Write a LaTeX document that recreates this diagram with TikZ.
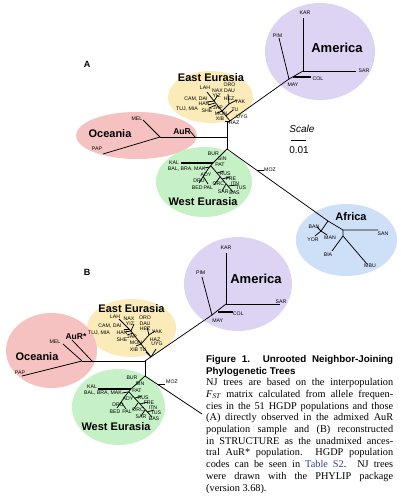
\documentclass[tikz,border=0pt]{standalone}
\usepackage{fontspec}
\setmainfont{Liberation Serif}
\setsansfont{Liberation Sans}
\usetikzlibrary{shapes.geometric}
\definecolor{pinkO}{HTML}{F6C1C1}
\definecolor{yellowE}{HTML}{FAEBB8}
\definecolor{purpleA}{HTML}{DCD4F2}
\definecolor{greenW}{HTML}{C6F1C6}
\definecolor{blueF}{HTML}{CEDFF8}
\definecolor{linkblue}{HTML}{2E3F9E}
\tikzset{
  br/.style={line width=0.75pt},
  thickbr/.style={line width=1.4pt},
  tip/.style={font=\sffamily\fontsize{5.2}{5.2}\selectfont, inner sep=0pt},
  region/.style={font=\sffamily\bfseries\fontsize{11}{11}\selectfont, inner sep=0pt},
  bigregion/.style={font=\sffamily\bfseries\fontsize{13}{13}\selectfont, inner sep=0pt},
  aur/.style={font=\sffamily\bfseries\fontsize{8.5}{8.5}\selectfont, inner sep=0pt},
  panel/.style={font=\sffamily\bfseries\fontsize{9}{9}\selectfont, inner sep=0pt},
  capline/.style={anchor=base west, inner sep=0pt, font=\fontsize{10.3}{12}\selectfont},
  captitle/.style={anchor=base west, inner sep=0pt, font=\sffamily\bfseries\fontsize{9.8}{10}\selectfont},
}
\begin{document}
\begin{tikzpicture}[x=1pt,y=-1pt]
\useasboundingbox (0,0) rectangle (400,504);
\fill[white] (0,0) rectangle (400,504);

% ---------- background regions, tree A ----------
\fill[purpleA] (320,51.5) ellipse [x radius=55, y radius=48.5];
\fill[yellowE] (210.5,97) ellipse [x radius=42.5, y radius=26];
\fill[pinkO] (136.5,135.5) ellipse [x radius=60.5, y radius=23.5];
\fill[greenW] (204,182) ellipse [x radius=48, y radius=35];
\fill[blueF] (346.5,240) ellipse [x radius=50.5, y radius=36];
% ---------- background regions, tree B ----------
\fill[purpleA] (238,284) ellipse [x radius=54, y radius=47];
\fill[yellowE] (131.5,328) ellipse [x radius=44.5, y radius=29];
\fill[pinkO] (51.5,350.5) ellipse [x radius=45.5, y radius=37.5];
\fill[greenW] (118.5,407) ellipse [x radius=46.5, y radius=38];

% ================= TREE A =================
\coordinate (aTop) at (227,123);
\coordinate (aBot) at (227,149);
\coordinate (aMid) at (227,137);
\coordinate (aOc) at (160,137);
\coordinate (aAuRb) at (195,137);
\coordinate (aAuR) at (190,131);
\coordinate (aMEL) at (143,120);
\coordinate (aPAP) at (103,154);
\draw[br] (aTop) -- (aBot);
\draw[br] (aMid) -- (aOc);
\draw[br] (aAuRb) -- (aAuR);
\draw[br] (aOc) -- (aMEL);
\draw[br] (aOc) -- (aPAP);
% America A
\coordinate (aM1) at (289,79);
\coordinate (aM2) at (303,71);
\coordinate (aKAR) at (303,18);
\coordinate (aSAR) at (356,71);
\coordinate (aPIM) at (279,38);
\coordinate (aCOLb) at (293,77);
\coordinate (aCOL) at (311,77);
\draw[br] (aTop) -- (aM1);
\draw[br] (aM1) -- (aM2);
\draw[br] (aM2) -- (aKAR);
\draw[br] (aM2) -- (aSAR);
\draw[br] (aM1) -- (aPIM);
\draw[thickbr] (aCOLb) -- (aCOL);
% East Eurasia A
\coordinate (aE0) at (230,121);
\coordinate (aE1) at (222,111);
\coordinate (aE2) at (214,101);
\coordinate (aLAH) at (207,92);
\coordinate (aE3) at (229,104);
\coordinate (aYAK) at (237,100);
\coordinate (aORO) at (228,94);
\coordinate (aNAX) at (218,95);
\coordinate (aH1) at (207,102);
\coordinate (aH2a) at (215,103);
\coordinate (aH2) at (208,105);
\coordinate (aH3a) at (216,105);
\coordinate (aH3) at (209,108);
\coordinate (aJAP) at (217,113);
\coordinate (aTUb) at (226,116);
\coordinate (aTU) at (233,110);
\coordinate (aXIB) at (225,121);
\draw[br] (aE0) -- (aE1) -- (aE2) -- (aLAH);
\draw[br] (aE1) -- (aE3) -- (aYAK);
\draw[br] (aE3) -- (aORO);
\draw[br] (aE2) -- (aNAX);
\draw[br] (aE2) -- (aH1);
\draw[br] (aH2a) -- (aH2);
\draw[br] (aH3a) -- (aH3);
\draw[br] (aE1) -- (aJAP);
\draw[br] (aTUb) -- (aTU);
\draw[br] (aE0) -- (aXIB);
% West Eurasia A
\coordinate (aW1) at (213,163);
\coordinate (aKAL) at (181,163);
\coordinate (aW2) at (208,169);
\coordinate (aDRU) at (199,183);
\coordinate (aW3) at (211,166);
\coordinate (aBAS) at (233,192);
\coordinate (aBALb) at (210,167);
\coordinate (aBAL) at (204,168);
\coordinate (aR1) at (217,173);
\coordinate (aRUS) at (224,171);
\coordinate (aR2) at (222,179);
\coordinate (aFRE) at (230,177);
\coordinate (aR3) at (220,177);
\coordinate (aORC) at (214,185);
\coordinate (aR4) at (226,184);
\coordinate (aSAR2) at (222,191);
\coordinate (aR5) at (228,186);
\coordinate (aTUS) at (237,185);
\coordinate (aP1) at (203,176);
\coordinate (aPAL) at (208,184);
\draw[br] (aBot) -- (aW1) -- (aW2) -- (aDRU);
\draw[thickbr] (aW1) -- (aKAL);
\draw[br] (aW3) -- (aBAS);
\draw[br] (aBALb) -- (aBAL);
\draw[br] (aR1) -- (aRUS);
\draw[br] (aR2) -- (aFRE);
\draw[br] (aR3) -- (aORC);
\draw[br] (aR4) -- (aSAR2);
\draw[br] (aR5) -- (aTUS);
\draw[br] (aP1) -- (aPAL);
% Africa
\coordinate (aMOZb) at (257,170);
\coordinate (aMOZ) at (264,170);
\coordinate (aF0) at (328,221);
\coordinate (aF1) at (321,231);
\coordinate (aBAN) at (317,227);
\coordinate (aYOR) at (315,236);
\coordinate (aMAN) at (327,235);
\coordinate (aF2) at (343,230);
\coordinate (aSAN) at (378,230);
\coordinate (aF3) at (343,236);
\coordinate (aBIA) at (332,251);
\coordinate (aMBU) at (367,264);
\draw[br] (aBot) -- (aF0) -- (aF2) -- (aSAN);
\draw[br] (aMOZb) -- (aMOZ);
\draw[br] (aF0) -- (aF1) -- (aBAN);
\draw[br] (aF1) -- (aYOR);
\draw[br] (aF1) -- (aMAN);
\draw[br] (aF2) -- (aF3) -- (aBIA);
\draw[br] (aF3) -- (aMBU);

% labels A
\node[panel] (lA) at (87,64) {A};
\node[bigregion] (lAmer) at (337,48) {America};
\node[region] (lEEa) at (211,78) {East Eurasia};
\node[region] (lOca) at (110,134) {Oceania};
\node[region] (lWEa) at (203,202) {West Eurasia};
\node[region] (lAfr) at (351,217) {Africa};
\node[aur] (lAuR) at (182,132) {AuR};
\node[tip] (tKARa) at (305,13) {KAR};
\node[tip] (tPIMa) at (277.5,36) {PIM};
\node[tip] (tSARa) at (364,71) {SAR};
\node[tip] (tCOLa) at (318,79) {COL};
\node[tip] (tMAYa) at (293,85) {MAY};
\node[tip] (tLAHa) at (205,88) {LAH};
\node[tip] (tOROa) at (229.5,85) {ORO};
\node[tip] (tNAXa) at (217.5,90.7) {NAX};
\node[tip] (tDAUa) at (229.5,90.7) {DAU};
\node[tip] (tYIZa) at (216.7,96) {YIZ};
\node[tip] (tHEZa) at (229,98.3) {HEZ};
\node[tip] (tCAMa) at (196,99) {CAM, DAI};
\node[tip] (tYAKa) at (240,101.7) {YAK};
\node[tip] (tHANa) at (204,104) {HAN};
\node[tip] (tTUJa) at (187,109) {TUJ, MIA};
\node[tip] (tJAPa) at (218,107.5) {JAP};
\node[tip] (tTUa) at (235,110) {TU};
\node[tip] (tSHEa) at (207,111) {SHE};
\node[tip] (tMONa) at (221,113.5) {MON};
\node[tip] (tXIBa) at (220,119) {XIB};
\node[tip] (tUYGa) at (242,117) {UYG};
\node[tip] (tHAZa) at (234,123) {HAZ};
\node[tip] (tMELa) at (137,119) {MEL};
\node[tip] (tPAPa) at (97,149) {PAP};
\node[tip] (tBURa) at (213.3,153.3) {BUR};
\node[tip] (tSINa) at (222.3,159) {SIN};
\node[tip] (tKALa) at (174,162.3) {KAL};
\node[tip] (tPATa) at (220,164.3) {PAT};
\node[tip] (tBALa) at (186.7,169) {BAL, BRA, MAK};
\node[tip] (tADYa) at (206,174.3) {ADY};
\node[tip] (tRUSa) at (225,173.3) {RUS};
\node[tip] (tFREa) at (231,178.3) {FRE};
\node[tip] (tDRUa) at (199,181) {DRU};
\node[tip] (tORCa) at (218.3,183.3) {ORC};
\node[tip] (tITNa) at (235,183.3) {ITN};
\node[tip] (tBEDa) at (197.3,187.3) {BED};
\node[tip] (tPALa) at (208.3,187.3) {PAL};
\node[tip] (tTUSa) at (241,187.8) {TUS};
\node[tip] (tSARa2) at (223.3,191.7) {SAR};
\node[tip] (tBASa) at (234.5,193.2) {BAS};
\node[tip] (tMOZa) at (270,169.3) {MOZ};
\node[tip] (tBANa) at (314,226.7) {BAN};
\node[tip] (tYORa) at (313,240) {YOR};
\node[tip] (tMANa) at (330,237.7) {MAN};
\node[tip] (tBIAa) at (328,255) {BIA};
\node[tip] (tMBUa) at (370,266) {MBU};
\node[tip] (tSANa) at (383,233.3) {SAN};
% scale
\node[font=\sffamily\itshape\fontsize{10}{10}\selectfont, inner sep=0pt] (lScale) at (302,129) {Scale};
\coordinate (scL) at (291,140);
\coordinate (scR) at (306,140);
\draw[line width=0.8pt] (scL) -- (scR);
\node[font=\sffamily\fontsize{10}{10}\selectfont, inner sep=0pt] (lScv) at (299,150) {0.01};

% ================= TREE B =================
\coordinate (bTop) at (145,361);
\coordinate (bBot) at (145,376);
\coordinate (bOc) at (82,361);
\coordinate (bAuRb) at (92,361);
\coordinate (bAuR) at (72,340);
\coordinate (bMEL) at (63,344);
\coordinate (bPAP) at (22,376);
\draw[br] (bTop) -- (bBot);
\draw[br] (bTop) -- (bOc);
\draw[br] (bAuRb) -- (bAuR);
\draw[br] (bOc) -- (bMEL);
\draw[br] (bOc) -- (bPAP);
% America B
\coordinate (bM1) at (212,315);
\coordinate (bM2) at (226,304);
\coordinate (bKAR) at (226,253);
\coordinate (bSAR) at (280,304);
\coordinate (bPIM) at (202,277);
\coordinate (bCOLb) at (218,312);
\coordinate (bCOL) at (233,312);
\draw[br] (bTop) -- (bM1);
\draw[br] (bM1) -- (bM2);
\draw[br] (bM2) -- (bKAR);
\draw[br] (bM2) -- (bSAR);
\draw[br] (bM1) -- (bPIM);
\draw[thickbr] (bCOLb) -- (bCOL);
% East Eurasia B
\coordinate (bE0) at (151,357);
\coordinate (bE1) at (141,344);
\coordinate (bE2) at (131,331);
\coordinate (bLAH) at (119,319);
\coordinate (bE3) at (149,335);
\coordinate (bYAK) at (155,331);
\coordinate (bHEZ) at (147,327);
\coordinate (bH1) at (125,332);
\coordinate (bH2a) at (133,333);
\coordinate (bH2) at (127,335);
\coordinate (bH3a) at (129,329);
\coordinate (bH3) at (124,329);
\coordinate (bNAX) at (134,324);
\coordinate (bJAP) at (136,346);
\coordinate (bUYG) at (156,349);
\coordinate (bTU) at (146,352);
\draw[br] (bE0) -- (bE1) -- (bE2) -- (bLAH);
\draw[br] (bE1) -- (bE3) -- (bYAK);
\draw[br] (bE3) -- (bHEZ);
\draw[br] (bE2) -- (bH1);
\draw[br] (bH2a) -- (bH2);
\draw[br] (bH3a) -- (bH3);
\draw[br] (bE2) -- (bNAX);
\draw[br] (bE1) -- (bJAP);
\draw[br] (bE0) -- (bUYG);
\draw[br] (bE0) -- (bTU);
% West Eurasia B
\coordinate (bW1) at (131,389);
\coordinate (bKAL) at (98,389);
\coordinate (bW2) at (126,395);
\coordinate (bDRU) at (117,408);
\coordinate (bW3) at (129,392);
\coordinate (bBAS) at (152,417);
\coordinate (bBALb) at (128,392);
\coordinate (bBAL) at (122,393);
\coordinate (bR1) at (135,398);
\coordinate (bRUS) at (142,396);
\coordinate (bR2) at (140,404);
\coordinate (bFRE) at (148,402);
\coordinate (bR3) at (138,403);
\coordinate (bORC) at (133,410);
\coordinate (bR4) at (145,410);
\coordinate (bSAR) at (141,416);
\coordinate (bR5) at (147,412);
\coordinate (bTUS) at (154,410);
\coordinate (bP1) at (121,402);
\coordinate (bPAL) at (126,409);
\coordinate (bMOZb) at (157,384);
\coordinate (bMOZ) at (165,384);
\coordinate (bSE) at (202,414);
\draw[br] (bBot) -- (bW1) -- (bW2) -- (bDRU);
\draw[thickbr] (bW1) -- (bKAL);
\draw[br] (bW3) -- (bBAS);
\draw[br] (bBALb) -- (bBAL);
\draw[br] (bR1) -- (bRUS);
\draw[br] (bR2) -- (bFRE);
\draw[br] (bR3) -- (bORC);
\draw[br] (bR4) -- (bSAR);
\draw[br] (bR5) -- (bTUS);
\draw[br] (bP1) -- (bPAL);
\draw[br] (bBot) -- (bSE);
\draw[br] (bMOZb) -- (bMOZ);

% labels B
\node[panel] (lB) at (87,272) {B};
\node[bigregion] (lAmerB) at (256,279) {America};
\node[region] (lEEb) at (131.5,309) {East Eurasia};
\node[region] (lOcb) at (37,357) {Oceania};
\node[region] (lWEb) at (116,427) {West Eurasia};
\node[aur] (lAuRB) at (76,337) {AuR*};
\node[tip] (tKARb) at (226,248) {KAR};
\node[tip] (tSARb) at (281,301.7) {SAR};
\node[tip] (tPIMb) at (200.7,272.7) {PIM};
\node[tip] (tCOLb) at (238.3,314) {COL};
\node[tip] (tMAYb) at (217.7,321) {MAY};
\node[tip] (tMELb) at (55,342) {MEL};
\node[tip] (tPAPb) at (20,373) {PAP};
\node[tip] (tLAHb) at (115,317) {LAH};
\node[tip] (tNAXb) at (129,319) {NAX};
\node[tip] (tOROb) at (145,318) {ORO};
\node[tip] (tCAMb) at (110,326) {CAM, DAI};
\node[tip] (tYIZb) at (130,324) {YIZ};
\node[tip] (tDAUb) at (145,324) {DAU};
\node[tip] (tTUJb) at (99,333) {TUJ, MIA};
\node[tip] (tHANb) at (122,333) {HAN};
\node[tip] (tHEZb) at (145,329) {HEZ};
\node[tip] (tYAKb) at (157,332) {YAK};
\node[tip] (tSHEb) at (122,340) {SHE};
\node[tip] (tJAPb) at (132,337) {JAP};
\node[tip] (tMONb) at (136,343) {MON};
\node[tip] (tHAZb) at (155,340) {HAZ};
\node[tip] (tXIBb) at (134,350) {XIB};
\node[tip] (tTUb) at (143,350) {TU};
\node[tip] (tUYGb) at (157,344) {UYG};
\node[tip] (tBURb) at (132,378) {BUR};
\node[tip] (tSINb) at (140,384) {SIN};
\node[tip] (tKALb) at (92,387) {KAL};
\node[tip] (tPATb) at (137,391) {PAT};
\node[tip] (tBALb) at (103,393) {BAL, BRA, MAK};
\node[tip] (tADYb) at (128,399) {ADY};
\node[tip] (tRUSb) at (143,398) {RUS};
\node[tip] (tFREb) at (149,403) {FRE};
\node[tip] (tDRUb) at (118,405) {DRU};
\node[tip] (tITNb) at (153,408) {ITN};
\node[tip] (tORCb) at (138,410) {ORC};
\node[tip] (tBEDb) at (115,412) {BED};
\node[tip] (tPALb) at (127,412) {PAL};
\node[tip] (tTUSb) at (156,413) {TUS};
\node[tip] (tSARb2) at (141,417) {SAR};
\node[tip] (tBASb) at (154,419) {BAS};
\node[tip] (tMOZb) at (172,382) {MOZ};

% ================= CAPTION =================
\node[captitle] (c1) at (206,362.3) {\makebox[187pt][s]{Figure 1. Unrooted Neighbor-Joining}};
\node[captitle] (c2) at (206,374) {Phylogenetic Trees};
\node[capline] (c3) at (206,385.7) {\makebox[187pt][s]{NJ trees are based on the interpopulation}};
\node[capline] (c4) at (206,397.4) {\makebox[187pt][s]{\textit{F}\textsubscript{\textit{ST}} matrix calculated from allele frequen-}};
\node[capline] (c5) at (206,409.1) {\makebox[187pt][s]{cies in the 51 HGDP populations and those}};
\node[capline] (c6) at (206,420.8) {\makebox[187pt][s]{(A) directly observed in the admixed AuR}};
\node[capline] (c7) at (206,432.5) {\makebox[187pt][s]{population sample and (B) reconstructed}};
\node[capline] (c8) at (206,444.2) {\makebox[187pt][s]{in STRUCTURE as the unadmixed ances-}};
\node[capline] (c9) at (206,455.9) {\makebox[187pt][s]{tral AuR* population. HGDP population}};
\node[capline] (c10) at (206,467.6) {\makebox[187pt][s]{codes can be seen in \textcolor{linkblue}{Table S2}. NJ trees}};
\node[capline] (c11) at (206,479.3) {\makebox[187pt][s]{were drawn with the PHYLIP package}};
\node[capline] (c12) at (206,491) {(version 3.68).};
\end{tikzpicture}
\end{document}
